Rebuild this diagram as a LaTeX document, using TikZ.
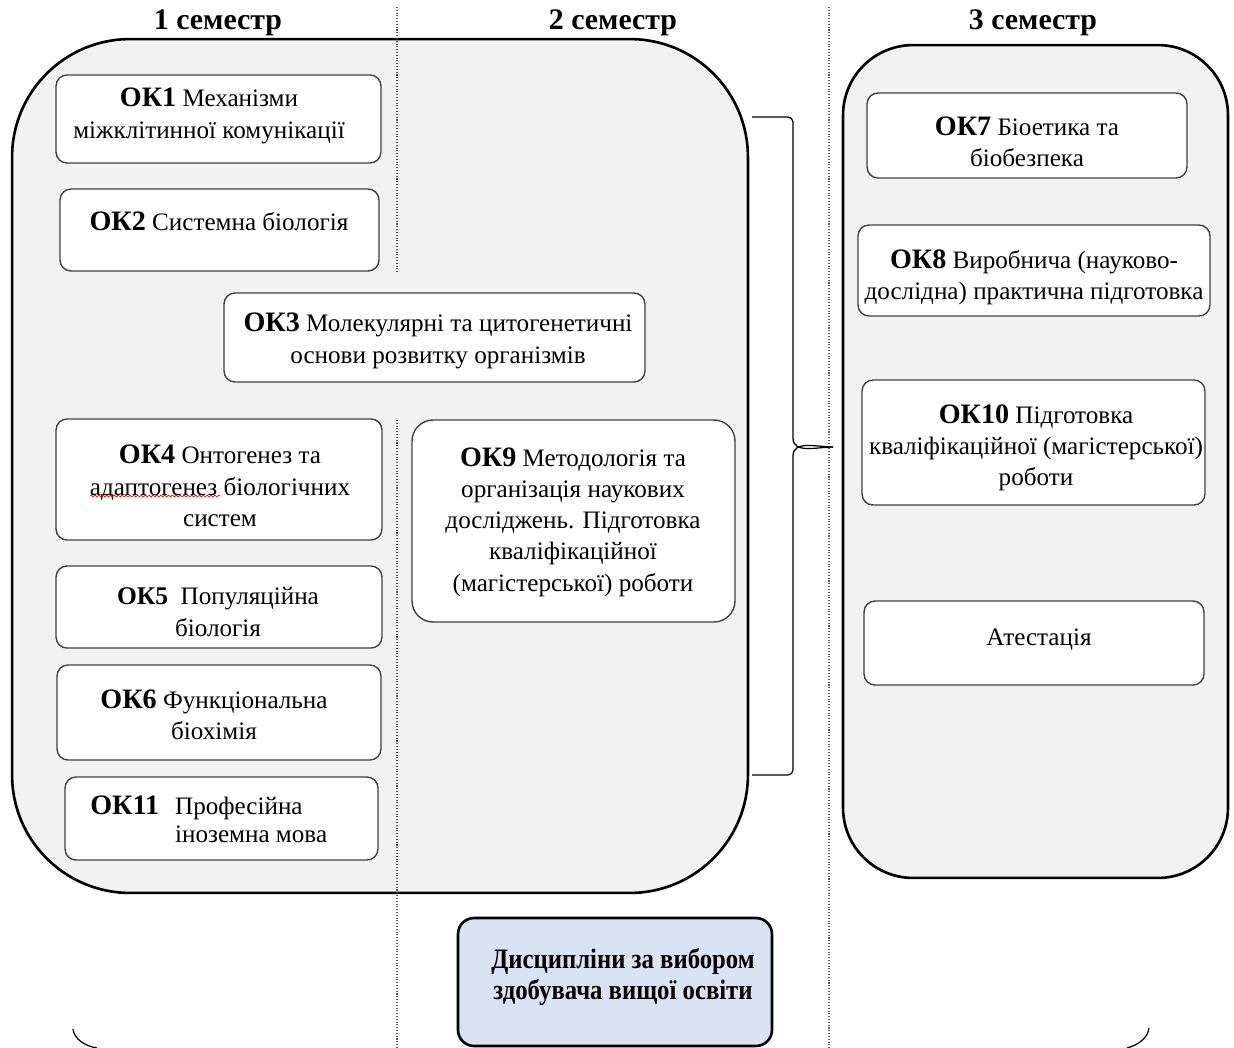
\documentclass[tikz,border=0pt]{standalone}
\usepackage{fontspec}
\setmainfont{Liberation Serif}
\newfontfamily\narrowserif[FakeStretch=0.88]{Liberation Serif}
\usetikzlibrary{decorations.pathmorphing}
\definecolor{panelgray}{HTML}{F2F2F2}
\definecolor{electblue}{HTML}{DAE3F3}
\definecolor{boxline}{HTML}{404040}
\newcommand{\okl}[1]{{\fontsize{16}{17.8}\selectfont\bfseries #1}}
\newcommand{\okls}[1]{{\fontsize{14.5}{17.8}\selectfont\bfseries #1}}
\begin{document}
\begin{tikzpicture}[x=0.02cm,y=-0.02cm,
  panel/.style={draw=black, line width=1.5pt, fill=panelgray, inner sep=0},
  course/.style={draw=boxline, line width=0.8pt, fill=white, rounded corners=0.22cm, inner sep=0},
  txt/.style={align=center, inner sep=0, font=\fontsize{14.3}{17.8}\selectfont},
  head/.style={inner sep=0, font=\fontsize{17}{20}\selectfont\bfseries},
  guide/.style={densely dotted, draw=black!65, line width=0.6pt},
  bracket/.style={draw=black, line width=0.7pt}]
\useasboundingbox (0,0) rectangle (1234,1048);

% panels
\node[panel, rounded corners=2.36cm, minimum width=14.72cm, minimum height=17.08cm] (sem12) at (380,466) {};
\node[panel, rounded corners=1.4cm, minimum width=7.7cm, minimum height=16.66cm] (sem3) at (1035.5,461.5) {};

% dotted guides
\coordinate (g1a) at (397,7);
\coordinate (g1b) at (397,272);
\coordinate (g1c) at (397,420);
\coordinate (g1d) at (397,1048);
\coordinate (g2a) at (829,7);
\coordinate (g2b) at (829,1048);
\draw[guide] (g1a) -- (g1b);
\draw[guide] (g1c) -- (g1d);
\draw[guide] (g2a) -- (g2b);

% headers
\node[head] (h1) at (218,23) {1 семестр};
\node[head] (h2) at (613,23) {2 семестр};
\node[head] (h3) at (1033,23) {3 семестр};

% course boxes
\node[course, minimum width=6.5cm, minimum height=1.76cm] (b1) at (218.5,119) {};
\node[course, minimum width=6.38cm, minimum height=1.64cm] (b2) at (219.5,230) {};
\node[course, minimum width=8.42cm, minimum height=1.78cm] (b3) at (434.5,337.5) {};
\node[course, minimum width=6.52cm, minimum height=2.42cm] (b4) at (219,479.5) {};
\node[course, minimum width=6.52cm, minimum height=1.64cm] (b5) at (219,607) {};
\node[course, minimum width=6.48cm, minimum height=1.9cm] (b6) at (219,712.5) {};
\node[course, minimum width=6.26cm, minimum height=1.66cm] (b11) at (221.5,818.5) {};
\node[course, rounded corners=0.42cm, minimum width=6.46cm, minimum height=4.04cm] (b9) at (573.5,521) {};
\node[course, minimum width=6.4cm, minimum height=1.7cm] (b7) at (1027,135.5) {};
\node[course, minimum width=7.04cm, minimum height=1.82cm] (b8) at (1034,270.5) {};
\node[course, minimum width=6.86cm, minimum height=2.5cm] (b10) at (1033.5,442.5) {};
\node[course, minimum width=6.8cm, minimum height=1.68cm] (bA) at (1034,643) {};
\node[draw=black, line width=1.5pt, fill=electblue, rounded corners=0.32cm, inner sep=0,
      minimum width=6.28cm, minimum height=2.56cm] (bD) at (615,982) {};

% texts
\node[txt] (t1) at (209,116) {\okl{ОК1} Механізми\\міжклітинної комунікації};
\node[txt] (t2) at (219,221) {\okl{ОК2} Системна біологія};
\node[txt] (t3) at (438,341) {\okl{ОК3} Молекулярні та цитогенетичні\\основи розвитку організмів};
\node[txt] (t4) at (220,486) {\okl{ОК4} Онтогенез та\\адаптогенез біологічних\\систем};
\node[txt] (t5) at (218,612) {\okls{ОК5}\ \ Популяційна\\біологія};
\node[txt] (t6) at (214,715) {\okl{ОК6} Функціональна\\біохімія};
\node[txt, anchor=west, align=left] (t11) at (90,822)
  {\begin{tabular}{@{}l@{\hspace{0.32cm}}l@{}}\okl{ОК11} & Професійна\\[-2pt] & іноземна мова\end{tabular}};
\node[txt] (t9) at (573,522) {\okl{ОК9} Методологія та\\організація наукових\\досліджень. Підготовка\\кваліфікаційної\\(магістерської) роботи};
\node[txt] (t7) at (1027,142) {\okl{ОК7} Біоетика та\\біобезпека};
\node[txt] (t8) at (1034,277) {\okl{ОК8} Виробнича (науково-\\дослідна) практична підготовка};
\node[txt] (t10) at (1036,448) {\okl{ОК10} Підготовка\\кваліфікаційної (магістерської)\\роботи};
\node[txt] (tA) at (1039,640) {Атестація};
\node[txt, font=\fontsize{16}{17.8}\narrowserif\bfseries] (tD) at (623,977) {Дисципліни за вибором\\здобувача вищої освіти};

% spell-check underline
\draw[red, line width=0.4pt, decorate, decoration={snake, amplitude=0.5pt, segment length=2.2pt}] (90,496) -- (220,496);

% bracket between panels
\coordinate (brT) at (752,117);
\coordinate (brB) at (752,775);
\coordinate (brTip) at (833,447);
\draw[bracket] (brT) -- (788,117) to[out=0,in=90] (793,122) -- (793,438)
  to[out=-90,in=180] (brTip);
\draw[bracket] (brTip) to[out=180,in=90] (793,456) -- (793,770)
  to[out=-90,in=0] (788,775) -- (brB);

% cut-off arcs at the bottom
\coordinate (arcL1) at (73,1029);
\coordinate (arcL2) at (97,1048);
\coordinate (arcR1) at (1149,1028);
\coordinate (arcR2) at (1127,1048);
\draw[line width=0.7pt] (arcL1) .. controls (74,1039) and (85,1046) .. (arcL2);
\draw[line width=0.7pt] (arcR1) .. controls (1148,1038) and (1138,1045) .. (arcR2);
\end{tikzpicture}
\end{document}
